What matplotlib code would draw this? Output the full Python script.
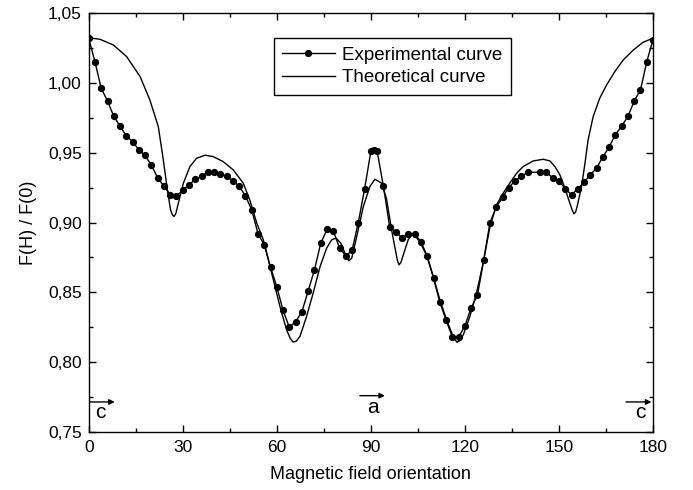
import matplotlib
matplotlib.use("Agg")
import matplotlib.pyplot as plt
from matplotlib.ticker import MultipleLocator, FuncFormatter

plt.rcParams['font.family'] = ['Liberation Sans', 'DejaVu Sans']

# Experimental data (angle in degrees, F(H)/F(0))
exp_angle = [0, 2, 4, 6, 8, 10, 12, 14, 16, 18, 20, 22, 24, 26, 28, 30, 32, 34, 36, 38,
             40, 42, 44, 46, 48, 50, 52, 54, 56, 58, 60, 62, 64, 66, 68, 70, 72, 74, 76, 78,
             80, 82, 84, 86, 88, 90, 91, 92, 94, 96, 98, 100, 102, 104, 106, 108, 110, 112,
             114, 116, 118, 120, 122, 124, 126, 128, 130, 132, 134, 136, 138, 140, 144, 146,
             148, 150, 152, 154, 156, 158, 160, 162, 164, 166, 168, 170, 172, 174, 176, 178, 180]
exp_value = [1.032, 1.015, 0.996, 0.987, 0.976, 0.969, 0.962, 0.958, 0.952, 0.948, 0.941,
             0.932, 0.926, 0.920, 0.919, 0.923, 0.927, 0.931, 0.933, 0.936, 0.936, 0.935,
             0.933, 0.930, 0.926, 0.919, 0.909, 0.892, 0.884, 0.868, 0.854, 0.837, 0.825,
             0.829, 0.836, 0.851, 0.866, 0.885, 0.895, 0.894, 0.882, 0.876, 0.880, 0.900,
             0.924, 0.951, 0.952, 0.951, 0.926, 0.897, 0.893, 0.889, 0.892, 0.892, 0.886,
             0.876, 0.860, 0.843, 0.830, 0.818, 0.818, 0.826, 0.839, 0.848, 0.873, 0.900,
             0.911, 0.918, 0.925, 0.930, 0.933, 0.936, 0.936, 0.936, 0.932, 0.930, 0.924,
             0.920, 0.924, 0.929, 0.934, 0.939, 0.947, 0.954, 0.963, 0.969, 0.976, 0.987,
             0.995, 1.015, 1.031]

# Theoretical curve (traced)
th_angle = [0, 3.6, 7.9, 12.1, 16.4, 19.5, 22.2, 23.8, 25.1, 26.1, 26.7, 27.2, 27.8, 28.6,
            30.2, 32.3, 34.4, 37.1, 39.7, 42.9, 46.1, 49.3, 51.4, 53.6, 55.7, 56.8, 57.8,
            58.9, 61.0, 63.1, 64.3, 65.2, 66.2, 67.4, 69.5, 71.6, 73.8, 75.9, 77.5, 78.9,
            80.4, 81.7, 83.0, 83.9, 85.5, 87.6, 89.7, 91.3, 93.4, 95.0, 96.6, 97.9, 98.5,
            99.0, 99.6, 100.3, 101.9, 103.0, 104.0, 105.6, 107.8, 109.9, 112.0, 114.2,
            115.8, 116.7, 117.5, 118.4, 119.5, 121.6, 123.7, 125.8, 128.0, 130.1, 132.2,
            134.3, 136.5, 138.6, 141.8, 145.0, 147.1, 148.7, 150.3, 151.9, 153.3, 154.3,
            154.8, 155.3, 155.8, 157.2, 158.3, 159.3, 160.9, 163.0, 165.2, 167.8, 170.5,
            173.7, 176.8, 180]
th_value = [1.0323, 1.0312, 1.0271, 1.0188, 1.0045, 0.9878, 0.9687, 0.9448, 0.9234, 0.9091,
            0.9055, 0.9043, 0.9065, 0.9139, 0.9282, 0.9401, 0.9460, 0.9482, 0.9472, 0.9436,
            0.9377, 0.9282, 0.9160, 0.8996, 0.8876, 0.8781, 0.8685, 0.8590, 0.8399, 0.8232,
            0.8170, 0.8144, 0.8150, 0.8185, 0.8328, 0.8495, 0.8685, 0.8817, 0.8876, 0.8888,
            0.8853, 0.8781, 0.8726, 0.8745, 0.8900, 0.9115, 0.9258, 0.9310, 0.9282, 0.9170,
            0.8948, 0.8795, 0.8725, 0.8697, 0.8715, 0.8765, 0.8876, 0.8912, 0.8905, 0.8864,
            0.8763, 0.8614, 0.8447, 0.8300, 0.8209, 0.8165, 0.8142, 0.8155, 0.8197, 0.8328,
            0.8495, 0.8710, 0.8971, 0.9127, 0.9210, 0.9282, 0.9353, 0.9401, 0.9441, 0.9453,
            0.9441, 0.9401, 0.9341, 0.9246, 0.9150, 0.9085, 0.9062, 0.9075, 0.9115, 0.9258,
            0.9425, 0.9592, 0.9758, 0.9890, 0.9985, 1.0080, 1.0164, 1.0235, 1.0290, 1.0320]

x_ticks = [0, 30, 60, 90, 120, 150, 180]
y_ticks = [0.75, 0.80, 0.85, 0.90, 0.95, 1.00, 1.05]

fig = plt.figure(figsize=(6.93, 4.90), dpi=100)
ax = fig.add_axes([0.128, 0.1184, 0.8143, 0.855])

ax.plot(exp_angle, exp_value, '-', color='black', lw=1.0, marker='o', ms=4.2,
        label='Experimental curve')
ax.plot(th_angle, th_value, '-', color='black', lw=1.0, label='Theoretical curve')

ax.set_xlim(0, 180)
ax.set_ylim(0.75, 1.05)
ax.set_xticks(x_ticks)
ax.set_yticks(y_ticks)
ax.xaxis.set_minor_locator(MultipleLocator(15))
ax.yaxis.set_minor_locator(MultipleLocator(0.025))
ax.yaxis.set_major_formatter(FuncFormatter(lambda v, p: f"{v:.2f}".replace('.', ',')))
ax.tick_params(which='both', direction='in', top=True, right=True, labelsize=12.5, width=1.0)
ax.tick_params(which='major', length=5)
ax.tick_params(which='minor', length=3)
ax.tick_params(axis='x', which='major', pad=6)
ax.tick_params(axis='y', which='major', pad=5)
for s in ax.spines.values():
    s.set_linewidth(1.0)

ax.set_xlabel('Magnetic field orientation', fontsize=13, labelpad=8)
ax.set_ylabel('F(H) / F(0)', fontsize=13, labelpad=8)

leg = ax.legend(loc='upper left', bbox_to_anchor=(0.328, 0.94), fontsize=13.5,
                frameon=True, fancybox=False, framealpha=1, edgecolor='black',
                handlelength=2.8, handletextpad=0.4, borderpad=0.45, labelspacing=0.3,
                borderaxespad=0)
leg.get_frame().set_linewidth(1.0)

arrow_kw = dict(arrowstyle='-|>', color='black', lw=1.0, mutation_scale=8,
                shrinkA=0, shrinkB=0)
ax.annotate('', xy=(8.3, 0.7715), xytext=(0.4, 0.7715), arrowprops=arrow_kw)
ax.text(3.6, 0.7636, 'c', fontsize=15, ha='center', va='center')
ax.annotate('', xy=(179.5, 0.7715), xytext=(171.4, 0.7715), arrowprops=arrow_kw)
ax.text(176.0, 0.7636, 'c', fontsize=15, ha='center', va='center')
ax.annotate('', xy=(94.5, 0.776), xytext=(86.5, 0.776), arrowprops=arrow_kw)
ax.text(90.6, 0.7672, 'a', fontsize=15, ha='center', va='center')

fig.savefig('out.png', dpi=100)
